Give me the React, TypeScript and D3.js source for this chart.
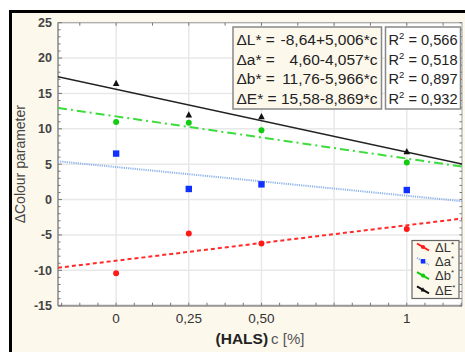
import React from "react";
import * as d3 from "d3";

const concentrations = [0, 0.25, 0.5, 1];
const dL = [-10.4, -4.8, -6.2, -4.15];
const da = [6.5, 1.5, 2.15, 1.35];
const db = [10.95, 10.85, 9.8, 5.25];
const dE = [16.4, 11.95, 11.7, 6.75];

const seriesNames = ["ΔL", "Δa", "Δb", "ΔE"];
const intercepts = [-8.64, 4.6, 11.76, 15.58];
const slopes = [5.006, -4.057, -5.966, -8.869];
const equationLabels = ["ΔL* =", "Δa* =", "Δb* =", "ΔE* ="];
const equationRhs = ["-8,64+5,006*c", "4,60-4,057*c", "11,76-5,966*c", "15,58-8,869*c"];
const r2Labels = ["0,566", "0,518", "0,897", "0,932"];

const xTickValues = [0, 0.25, 0.5, 1];
const xTickLabels = ["0", "0,25", "0,50", "1"];
const xGridValues = [0, 0.25, 0.5, 0.75, 1];
const yTickValues = [-15, -10, -5, 0, 5, 10, 15, 20, 25];

const colors = ["#ff1a1a", "#1030ff", "#11cc11", "#111111"];
const lineColors = ["#ff2a2a", "#8fb4ea", "#3ddc3d", "#222222"];
const dashes = ["4,3", "1.2,1", "9,4,2,4", ""];
const lineWidths = [2, 2, 2, 1.6];

const W = 465;
const H = 352;
const L = 58, R = 462, T = 22.7, B = 305.7;

export default function App() {
  const x = d3.scaleLinear().domain([-0.2, 1.19]).range([L, R]);
  const y = d3.scaleLinear().domain([-15, 25]).range([B, T]);
  const data = [dL, da, db, dE];
  const font = "'Liberation Sans', Arial, sans-serif";

  const yMinor = d3.range(-15, 25.01, 1);
  const xMinorBottom = d3.range(-0.1875, 1.19, 0.0625);
  const xMinorTop = d3.range(-0.125, 1.19, 0.125);

  const marker = (i: number, cx: number, cy: number, s = 1) => {
    if (i === 1) return <rect x={cx - 3.2 * s} y={cy - 3.2 * s} width={6.4 * s} height={6.4 * s} fill={colors[i]} />;
    if (i === 3)
      return (
        <path
          d={`M${cx},${cy - 3.8 * s}L${cx + 3.3 * s},${cy + 2.4 * s}L${cx - 3.3 * s},${cy + 2.4 * s}Z`}
          fill={colors[i]}
        />
      );
    return <circle cx={cx} cy={cy} r={3 * s} fill={colors[i]} />;
  };

  return (
    <svg width={W} height={H} style={{ position: "absolute", left: 0, top: 0 }} fontFamily={font}>
      <rect x={0} y={0} width={W} height={H} fill="#ffffff" />
      <rect x={9} y={10} width={W - 9} height={H - 10} fill="#fdf8ec" />
      <line x1={10.5} y1={10} x2={10.5} y2={H} stroke="#000" strokeWidth={3} />
      <line x1={9} y1={11.5} x2={W} y2={11.5} stroke="#000" strokeWidth={3} />

      <defs>
        <clipPath id="plotclip">
          <rect x={L} y={T} width={R - L} height={B - T} />
        </clipPath>
      </defs>

      <rect x={L} y={T} width={R - L} height={B - T} fill="#ffffff" />

      {/* grid */}
      {xGridValues.map((v) => (
        <line key={"gx" + v} x1={x(v)} x2={x(v)} y1={T} y2={B} stroke="#e8e8e8" strokeWidth={1.5} />
      ))}
      {yTickValues.map((v) => (
        <line key={"gy" + v} x1={L} x2={R} y1={y(v)} y2={y(v)} stroke="#e8e8e8" strokeWidth={1.5} />
      ))}

      {/* frame */}
      <rect x={L} y={T} width={R - L} height={B - T} fill="none" stroke="#a0a0a0" strokeWidth={1} />
      <line x1={L} x2={R} y1={B} y2={B} stroke="#999" strokeWidth={2} />
      <line x1={L} x2={L} y1={T} y2={B} stroke="#999" strokeWidth={1.5} />

      {/* minor ticks */}
      {yMinor.map((v) => (
        <g key={"ym" + v}>
          <line x1={L} x2={L + (v % 5 === 0 ? 4 : 2.5)} y1={y(v)} y2={y(v)} stroke="#777" strokeWidth={1} />
          <line x1={R} x2={R - 2.5} y1={y(v)} y2={y(v)} stroke="#777" strokeWidth={1} />
        </g>
      ))}
      {xMinorBottom.map((v) => (
        <line key={"xb" + v} x1={x(v)} x2={x(v)} y1={B} y2={B - 3} stroke="#777" strokeWidth={1} />
      ))}
      {xMinorTop.map((v) => (
        <line key={"xt" + v} x1={x(v)} x2={x(v)} y1={T} y2={T + 3} stroke="#777" strokeWidth={1} />
      ))}

      {/* regression lines */}
      <g clipPath="url(#plotclip)">
        {intercepts.map((a, i) => {
          const xs = [-0.2, 1.19];
          const pts = xs.map((c) => [x(c), y(a + slopes[i] * c)] as [number, number]);
          return (
            <path
              key={"l" + i}
              d={d3.line()(pts) || ""}
              fill="none"
              stroke={lineColors[i]}
              strokeWidth={lineWidths[i]}
              strokeDasharray={dashes[i] || undefined}
            />
          );
        })}
        {data.map((vals, i) => (
          <g key={"p" + i}>{vals.map((v, j) => <g key={j}>{marker(i, x(concentrations[j]), y(v))}</g>)}</g>
        ))}
      </g>

      {/* y tick labels */}
      {yTickValues.map((v) => (
        <text key={"yl" + v} x={52} y={y(v)} dy="0.35em" textAnchor="end" fontSize={12.5} fontWeight="bold" fill="#444">
          {v}
        </text>
      ))}
      {/* x tick labels */}
      {xTickValues.map((v, i) => (
        <text key={"xl" + v} x={x(v)} y={322.5} textAnchor="middle" fontSize={13.5} fill="#333">
          {xTickLabels[i]}
        </text>
      ))}

      {/* axis titles */}
      <text transform={`translate(25,${(T + B) / 2}) rotate(-90)`} textAnchor="middle" fontSize={14} fill="#444">
        ΔColour parameter
      </text>
      <text x={(L + R) / 2} y={344} textAnchor="middle" fill="#222">
        <tspan fontSize={15.5} fontWeight="bold">(HALS)</tspan>
        <tspan fontSize={15} fill="#555" dx={3}>c [%]</tspan>
      </text>

      {/* equation box */}
      <rect x={233} y={27} width={148.5} height={82} fill="#fdf8ec" stroke="#888" strokeWidth={1.5} />
      {equationLabels.map((lab, i) => (
        <g key={"eq" + i}>
          <text x={236.5} y={45 + i * 19.7} fontSize={15.5} fill="#222">{lab}</text>
          <text x={377.5} y={45 + i * 19.7} fontSize={15.5} fill="#222" textAnchor="end">{equationRhs[i]}</text>
        </g>
      ))}
      <rect x={385.5} y={27} width={75} height={82} fill="#ffffff" stroke="#888" strokeWidth={1.5} />
      {r2Labels.map((r, i) => (
        <text key={"r2" + i} x={388.5} y={45 + i * 19.7} fontSize={14.6} fill="#222">
          R<tspan fontSize={9.5} dy={-6}>2</tspan>
          <tspan dy={6}> = {r}</tspan>
        </text>
      ))}

      {/* legend */}
      <rect x={412} y={240.5} width={47} height={58} fill="#fdf8ec" stroke="#666" strokeWidth={1.2} />
      {seriesNames.map((n, i) => {
        const cy = 247 + i * 14.3;
        return (
          <g key={"lg" + i}>
            <line
              x1={417}
              y1={cy - 3.5}
              x2={429}
              y2={cy + 3.5}
              stroke={i === 1 ? lineColors[1] : colors[i]}
              strokeWidth={2}
              strokeDasharray={i === 1 ? "1.2,1" : undefined}
            />
            {marker(i, 423, cy, 0.7)}
            <text x={435} y={cy} dy="0.36em" fontSize={13} fill="#333">
              {n}
              <tspan fontSize={8} dy={-5}>*</tspan>
            </text>
          </g>
        );
      })}
    </svg>
  );
}
